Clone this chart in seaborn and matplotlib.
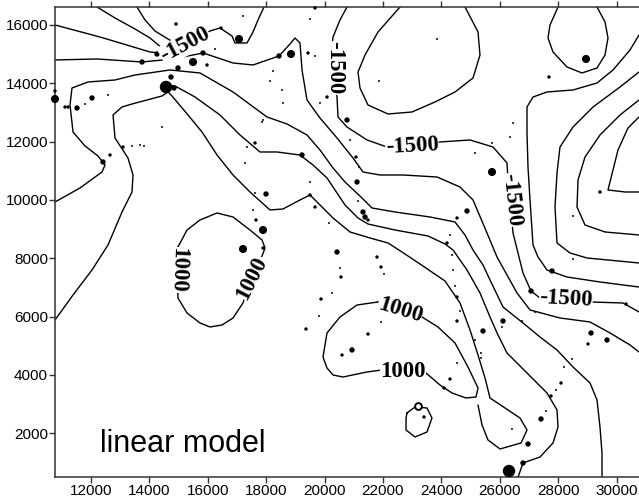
import matplotlib
matplotlib.use("Agg")
import matplotlib.pyplot as plt
import seaborn as sns
import pandas as pd

# contour lines (easting, northing)
l1_x = [10767, 12308, 13336, 14021, 14363, 15220, 16076, 16418, 16829, 16932, 17343, 17549, 17720, 17925]
l1_y = [16000, 15588, 15280, 15074, 15040, 15348, 15794, 15897, 15623, 15383, 15383, 15760, 16172, 16617]
l2_x = [12206, 12822, 13507, 14021, 14466]
l2_y = [16617, 16240, 15863, 15554, 15177]
l3_x = [13576, 13850, 14192, 14637, 14980]
l3_y = [16617, 16172, 15794, 15520, 15314]

b_x = [10767, 12206, 13747, 14809, 15836, 16864, 17549, 18439, 18816, 18987, 19158, 19227, 19398, 19843,
       20426, 20974, 21316, 21898, 22686, 23851, 24638, 25084, 25563, 25906, 26248, 26591, 27036, 28063,
       29091, 29776, 30461, 30769]
b_y = [14800, 14834, 14731, 14834, 15040, 14697, 14628, 14937, 15348, 15554, 15383, 14457, 13428, 12810,
       12124, 11438, 10958, 10855, 10855, 10786, 10443, 9998, 8866, 8042, 7425, 6808, 6225, 5950,
       5813, 5436, 5024, 4784]

c1_x = [20768, 20528, 20289, 20186, 20426, 20460, 20768, 21453, 22138, 22994, 23953, 24981, 25769, 26248,
        26282, 26351, 26454, 26796, 27070, 27378, 28269, 29091, 30221, 30769]
c1_y = [16617, 16172, 15588, 14628, 13530, 12844, 12501, 12056, 11815, 11850, 11987, 12056, 11815, 11267,
        10684, 9998, 8866, 7494, 6876, 6636, 6602, 6499, 6465, 6156]

c_x = [10767, 11623, 12377, 12480, 12240, 11795, 11384, 11281, 11349, 11897, 12822, 13507, 14706, 15733,
       16864, 18028, 18713, 19398, 19843, 20289, 20700, 21282, 21624, 22412, 23611, 24467, 24810, 25084,
       25426, 25666, 26111, 26796, 27378, 27961, 28509, 29091, 29331, 29433, 29502, 29502]
c_y = [9929, 10409, 10958, 11198, 11507, 11850, 12330, 13256, 13839, 14045, 14114, 14285, 14457, 14354,
       13702, 12844, 12604, 12227, 11713, 11095, 10615, 10066, 9723, 9586, 9414, 9243, 8797, 8283,
       7768, 7254, 6327, 5779, 5298, 4853, 4269, 3721, 3138, 2211, 1319, 392]

d_x = [14466, 14877, 15562, 16418, 17103, 17789, 18371, 19158, 19604, 20083, 20700, 21145, 21487, 22412,
       23542, 24125, 24399, 24878, 25323, 25666, 25906, 26248, 26933, 27618, 27961, 27995, 27824, 27378,
       26796, 26591]
d_y = [13976, 13908, 13530, 12913, 12227, 11644, 11644, 11541, 11198, 10752, 9826, 9380, 9174, 8968,
       8763, 8488, 8283, 7597, 6808, 5984, 5436, 4750, 4064, 3378, 2795, 2211, 1663, 1182,
       976, 392]

e_x = [10767, 11384, 12034, 12582, 13062, 13404, 13439, 13267, 12822, 12754, 13062, 13404, 13918, 14432,
       14637, 14774, 15322, 15802, 16316, 16864, 17446, 18131, 18576, 19158, 19501, 19843, 20289, 20871,
       21556, 22172, 22651, 23268, 24125, 24638, 24981, 25255, 25495, 25666, 26180, 26693, 26933, 26728,
       26008, 25597, 25392, 25255]
e_y = [5882, 6739, 7597, 8454, 9586, 10272, 10855, 11438, 12124, 12913, 13187, 13290, 13428, 13565,
       13702, 13565, 12913, 12330, 11541, 10855, 10272, 9655, 9689, 9998, 10169, 9826, 9380, 8900,
       8694, 8523, 8214, 7802, 7219, 6465, 5539, 4681, 3892, 3206, 2863, 2520, 2109, 1663,
       1457, 1766, 2280, 2966]

loop_w_x = [14980, 15288, 15733, 16316, 16864, 17446, 17857, 17960, 17857, 17617, 17446, 17206, 16864, 16487,
            16076, 15733, 15288, 14980, 14946, 14980]
loop_w_y = [8385, 8968, 9312, 9552, 9414, 8968, 8626, 8351, 8077, 7665, 7254, 6465, 5950, 5710,
            5641, 5779, 6122, 6636, 7597, 8385]

loop_s_x = [21830, 21111, 20528, 20083, 19946, 20083, 20289, 20631, 21453, 21967, 22686, 23474, 23953, 24365,
            24844, 25186, 25255, 24912, 24467, 23885, 23337, 22583, 21830]
loop_s_y = [6499, 6396, 5984, 5436, 4612, 4235, 3995, 3926, 4098, 4167, 4098, 4064, 3652, 3378,
            3206, 3240, 3549, 4269, 5093, 5641, 5984, 6225, 6499]

octa_x = [22823, 23097, 23508, 23679, 23508, 23097, 22789, 22789, 22823]
octa_y = [2692, 2897, 2863, 2520, 2040, 1869, 2109, 2520, 2692]

loop_n_x = [22583, 21830, 21385, 21145, 21213, 21487, 22172, 22994, 23782, 24467, 25084, 25323, 25255, 24810]
loop_n_y = [16617, 15760, 14971, 14388, 13839, 13256, 12947, 13016, 13359, 13702, 14182, 14971, 15760, 16617]

loop_ne_x = [27995, 27721, 27652, 27824, 28303, 28817, 29331, 29605, 29707, 29605, 29331]
loop_ne_y = [16617, 16000, 15554, 15074, 14559, 14354, 14525, 14971, 15554, 16103, 16617]

u1_x = [30769, 30461, 29879, 29331, 28509, 27618, 27139, 26933, 26933, 26967, 27036, 27139, 27310, 27618,
        28303, 29433, 30769]
u1_y = [15657, 15143, 14457, 14011, 13771, 13702, 13530, 13187, 12296, 11129, 9998, 8454, 8042, 7597,
        7356, 7185, 7013]
u2_x = [30769, 30119, 29194, 28509, 28063, 27961, 27892, 27961, 28406, 28988, 30769]
u2_y = [14388, 13873, 13187, 12501, 11815, 10924, 9757, 8523, 8180, 8008, 7837]
u3_x = [30769, 30119, 29433, 28920, 28680, 28646, 28920, 29605, 30769]
u3_y = [13428, 12913, 12227, 11472, 10684, 9757, 9140, 8900, 8797]
v_x = [30769, 30392, 30050, 29707, 30290, 30769]
v_y = [12844, 12467, 11713, 10341, 10272, 10272]

# sample points, magnitude class 1 (smallest) .. 5 (largest)
pts_x = [19672, 14911, 16453, 17069, 14261, 13747, 15836, 15494, 15973, 14980,
         14740, 14569, 14843, 18439, 18850, 19432, 19672, 18234, 18131, 18542,
         10767, 10767, 12034, 11110, 11212, 11521, 11795, 12582, 14432, 13096,
         13404, 13678, 13815, 12651, 12411, 17617, 19227, 17994, 17617, 19501,
         19672, 17651, 17891, 17206, 17891, 17549, 17275, 17343, 17891, 18576,
         19843, 28954, 27687, 23851, 21864, 20083, 20768, 25734, 29433, 21111,
         21316, 21385, 21487, 24878, 24536, 25152, 26454, 26351, 25734, 21076,
         21179, 20151, 28509, 21145, 19501, 17206, 16247, 17857, 19501, 20871,
         24296, 20426, 20528, 20563, 20254, 19877, 19809, 19364, 20597, 21796,
         21933, 22035, 21933, 21487, 20939, 24193, 24365, 24399, 24467, 24536,
         24638, 24536, 25426, 25152, 25357, 25357, 24536, 24296, 24090, 23405,
         28509, 27789, 27070, 27207, 26762, 26111, 26077, 29125, 29673, 29022,
         30324, 28474, 28200, 28098, 27926, 27755, 27584, 27413, 26419, 26967,
         26796, 26317]
pts_y = [16583, 16034, 15897, 15520, 15005, 14731, 15040, 14731, 14628, 14525,
         14216, 13873, 13839, 14937, 15005, 15040, 14937, 14422, 14079, 13771,
         13736, 13462, 13496, 13187, 13187, 13153, 13290, 13599, 12501, 11815,
         11850, 11884, 11850, 11541, 11301, 11953, 11541, 10203, 10238, 10169,
         9757, 9312, 8968, 8317, 8351, 9655, 11267, 11815, 12742, 13325,
         13325, 14834, 14216, 15520, 14079, 13530, 12742, 10958, 10272, 10615,
         9586, 9414, 9312, 9620, 9380, 11610, 12639, 12158, 11953, 11472,
         11129, 9209, 9449, 9963, 16206, 16309, 15177, 12673, 10615, 12056,
         8797, 8214, 7665, 7356, 6808, 6602, 6019, 5573, 4681, 8042,
         7700, 7459, 5813, 5401, 4853, 8523, 8111, 7597, 7048, 6670,
         6190, 5847, 5504, 5195, 4750, 4578, 4407, 3858, 3549, 2555,
         7974, 7562, 6876, 6156, 5847, 5847, 5641, 5436, 5195, 5059,
         6430, 4544, 4269, 3721, 3481, 3274, 2760, 2486, 2143, 1628,
         976, 701]
pts_mag = [2, 2, 2, 4, 3, 3, 3, 4, 2, 3,
           3, 5, 3, 3, 4, 2, 1, 1, 1, 1,
           2, 4, 3, 2, 2, 3, 1, 1, 1, 2,
           1, 1, 1, 2, 3, 2, 3, 3, 1, 2,
           2, 2, 4, 4, 2, 1, 1, 1, 1, 1,
           1, 4, 2, 1, 1, 2, 3, 4, 2, 3,
           3, 3, 2, 3, 2, 1, 1, 1, 1, 2,
           1, 1, 1, 1, 1, 1, 1, 1, 1, 1,
           1, 3, 1, 2, 1, 2, 1, 2, 2, 2,
           2, 1, 1, 2, 3, 2, 1, 1, 1, 2,
           1, 2, 3, 1, 1, 1, 1, 2, 2, 2,
           1, 3, 3, 1, 1, 3, 1, 3, 3, 2,
           2, 1, 1, 2, 1, 2, 1, 3, 1, 3,
           3, 5]
ring_x = [23200]
ring_y = [2932]

label_text = ["-1500", "-1500", "-1500", "-1500", "-1500", "1000", "1000", "1000", "1000"]
label_x = [15220, 20357, 22994, 26385, 28269, 14980, 17515, 22583, 22686]
label_y = [15314, 14525, 11850, 9998, 6602, 7597, 7322, 6225, 4098]

lines = [(l1_x, l1_y), (l2_x, l2_y), (l3_x, l3_y), (b_x, b_y), (c1_x, c1_y), (c_x, c_y),
         (d_x, d_y), (e_x, e_y), (loop_w_x, loop_w_y), (loop_s_x, loop_s_y), (octa_x, octa_y),
         (loop_n_x, loop_n_y), (loop_ne_x, loop_ne_y), (u1_x, u1_y), (u2_x, u2_y), (u3_x, u3_y),
         (v_x, v_y)]

sns.set_style("white")
plt.rcParams['font.family'] = ['Liberation Sans', 'DejaVu Sans']

fig = plt.figure(figsize=(6.39, 4.98), dpi=100)
ax = fig.add_axes([55 / 639, 21 / 498, 1 - 55 / 639, 470 / 498])

for lx, ly in lines:
    sns.lineplot(x=lx, y=ly, sort=False, estimator=None, color='black', linewidth=1.0, ax=ax)

pts = pd.DataFrame({'x': pts_x, 'y': pts_y, 'mag': pts_mag})
sns.scatterplot(data=pts, x='x', y='y', size='mag',
                sizes={1: 2, 2: 6, 3: 15, 4: 34, 5: 80},
                color='black', linewidth=0, legend=False, ax=ax, clip_on=False, zorder=3)
sns.scatterplot(x=ring_x, y=ring_y, s=24, facecolor='white', edgecolor='black',
                linewidth=1.4, legend=False, ax=ax, zorder=3)

rots = [28, -90, 3, -84, -3, -92, 63, -17, 0]
for t, x, y, r in zip(label_text, label_x, label_y, rots):
    ax.text(x, y, t, rotation=r, rotation_mode='anchor', ha='center', va='center',
            family=['Liberation Serif', 'DejaVu Serif'], weight='bold', size=16.5, color='black',
            bbox=dict(facecolor='white', edgecolor='none', pad=0.2), zorder=4)

ax.text(12308, 1354, 'linear model', fontsize=22, va='baseline', ha='left', color='black')

ax.set_xlim(10767, 30769)
ax.set_ylim(496, 16617)
ax.set_xticks(range(12000, 30001, 2000))
ax.set_yticks(range(2000, 16001, 2000))
ax.ticklabel_format(useOffset=False, style='plain')
ax.set_xlabel('')
ax.set_ylabel('')
ax.tick_params(axis='both', direction='out', length=4, width=1, color='#333333',
               labelsize=11, labelcolor='black', pad=1)
ax.tick_params(axis='x', top=True, bottom=True)
ax.tick_params(axis='y', left=True)
for side in ['left', 'bottom', 'top']:
    ax.spines[side].set_color('#333333')
    ax.spines[side].set_linewidth(1.1)
ax.spines['right'].set_visible(False)

fig.savefig('out.png', dpi=100)
